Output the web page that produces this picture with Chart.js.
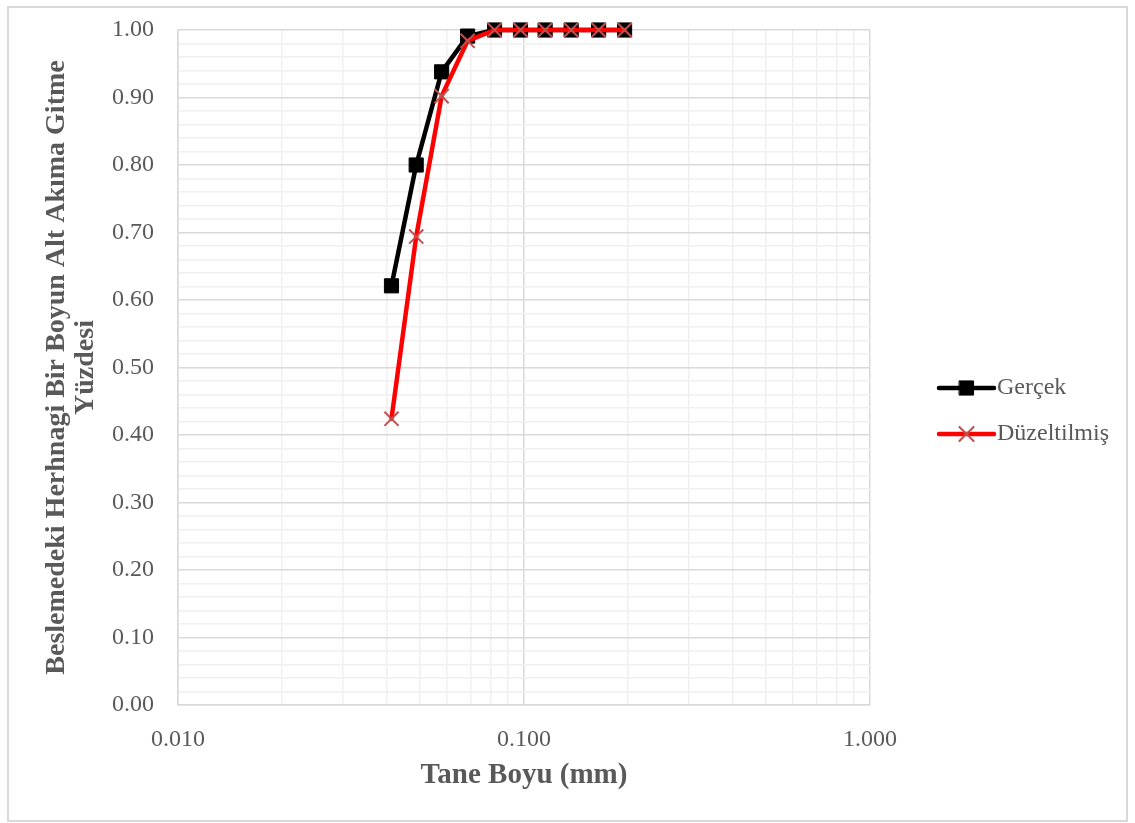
<!DOCTYPE html>
<html lang="tr">
<head>
<meta charset="utf-8">
<title>Tane Boyu Dağılımı</title>
<script src="https://cdn.jsdelivr.net/npm/chart.js@4.4.1/dist/chart.umd.min.js"></script>
<style>
  html, body { margin: 0; padding: 0; background: #ffffff; }
  #frame {
    position: absolute; left: 7px; top: 6px; width: 1121px; height: 816px;
    border: 2px solid #d9d9d9; box-sizing: border-box;
  }
  #chart { position: absolute; left: 0; top: 0; }
</style>
</head>
<body>
<div id="frame"></div>
<canvas id="chart" width="1135" height="823"></canvas>
<script>
// Particle sizes (mm) and passing fractions
const taneBoyu = [0.0414, 0.0488, 0.0578, 0.0687, 0.0822, 0.0977, 0.1151, 0.1369, 0.1643, 0.1953];
const gercek = [0.621, 0.800, 0.938, 0.991, 1.000, 1.000, 1.000, 1.000, 1.000, 1.000];
const duzeltilmis = [0.424, 0.694, 0.902, 0.984, 1.000, 1.000, 1.000, 1.000, 1.000, 1.000];

const seriesNames = ['Gerçek', 'Düzeltilmiş'];
const xTitle = 'Tane Boyu (mm)';
const yTitle = ['Beslemedeki Herhnagi Bir Boyun Alt Akıma Gitme', 'Yüzdesi'];

// Log axis grid: 1..9 within each decade, plus the closing 1.000
const xDecades = [0.01, 0.1];
const xMultipliers = [1, 2, 3, 4, 5, 6, 7, 8, 9];
const xMax = 1;

const FONT = '"Liberation Serif", "Times New Roman", serif';
const TEXT = '#595959';
const GRID_MAJOR = '#d9d9d9';
const GRID_MINOR = '#f0f0f0';

const toPoints = (ys) => taneBoyu.map((x, i) => ({ x: x, y: ys[i] }));
const isDecade = (v) => Math.abs(Math.log10(v) - Math.round(Math.log10(v))) < 1e-9;
const isTenth = (v) => Math.abs(v * 10 - Math.round(v * 10)) < 1e-6;

// Legend drawn as line + marker samples to the right of the plot
const sideLegend = {
  id: 'sideLegend',
  afterDraw(chart) {
    const ctx = chart.ctx;
    const items = chart.data.datasets;
    const x0 = 939, x1 = 994, tx = 997;
    const rows = [388, 434];
    items.forEach((ds, i) => {
      const y = rows[i];
      ctx.save();
      ctx.lineCap = 'round';
      ctx.strokeStyle = ds.borderColor;
      ctx.lineWidth = ds.borderWidth;
      ctx.beginPath();
      ctx.moveTo(x0, y);
      ctx.lineTo(x1, y);
      ctx.stroke();
      ctx.fillStyle = ds.pointBackgroundColor;
      ctx.strokeStyle = ds.pointBorderColor;
      ctx.lineWidth = ds.pointBorderWidth;
      Chart.helpers.drawPoint(ctx, {
        pointStyle: ds.pointStyle, radius: ds.pointRadius, rotation: 0, borderWidth: ds.pointBorderWidth
      }, (x0 + x1) / 2, y);
      ctx.fillStyle = TEXT;
      ctx.font = '24px ' + FONT;
      ctx.textAlign = 'left';
      ctx.textBaseline = 'middle';
      ctx.fillText(ds.label, tx, y);
      ctx.restore();
    });
  }
};

new Chart(document.getElementById('chart'), {
  type: 'line',
  data: {
    datasets: [
      {
        label: seriesNames[0],
        data: toPoints(gercek),
        borderColor: '#000000',
        borderWidth: 4.5,
        pointStyle: 'rect',
        pointRadius: 10,
        pointBackgroundColor: '#000000',
        pointBorderColor: '#000000',
        pointBorderWidth: 1,
        tension: 0,
        clip: false,
        order: 2
      },
      {
        label: seriesNames[1],
        data: toPoints(duzeltilmis),
        borderColor: '#ff0000',
        borderWidth: 4.5,
        pointStyle: 'crossRot',
        pointRadius: 10,
        pointBackgroundColor: '#c0504d',
        pointBorderColor: '#c0504d',
        pointBorderWidth: 2,
        tension: 0,
        clip: false,
        order: 1
      }
    ]
  },
  options: {
    responsive: false,
    animation: false,
    events: [],
    layout: { autoPadding: false, padding: { left: 0, top: 30, right: 265, bottom: 0 } },
    elements: { line: { borderJoinStyle: 'round', borderCapStyle: 'round' } },
    plugins: {
      legend: { display: false },
      tooltip: { enabled: false }
    },
    scales: {
      x: {
        type: 'logarithmic',
        min: xDecades[0],
        max: xMax,
        afterFit(scale) {
          scale.height = 118;
          scale.paddingLeft = 0;
          scale.paddingRight = 0;
        },
        afterBuildTicks(scale) {
          const t = [];
          xDecades.forEach(d => xMultipliers.forEach(m => t.push({ value: +(d * m).toPrecision(6) })));
          t.push({ value: xMax });
          scale.ticks = t;
        },
        border: { display: true, color: GRID_MAJOR, width: 1.5 },
        grid: {
          drawTicks: false,
          lineWidth: 1.5,
          color: (c) => (c.tick && isDecade(c.tick.value)) ? GRID_MAJOR : GRID_MINOR
        },
        ticks: {
          autoSkip: false,
          maxRotation: 0,
          padding: 20,
          color: TEXT,
          font: { family: FONT, size: 24 },
          callback: (v) => isDecade(v) ? Number(v).toFixed(3) : ''
        },
        title: {
          display: true,
          text: xTitle,
          color: TEXT,
          font: { family: FONT, size: 29, weight: 'bold', lineHeight: 1.2 },
          padding: { top: 0, bottom: 30 }
        }
      },
      y: {
        min: 0,
        max: 1,
        afterFit(scale) {
          scale.width = 178;
          scale.paddingTop = 0;
          scale.paddingBottom = 0;
        },
        border: { display: true, color: GRID_MAJOR, width: 1.5 },
        grid: {
          drawTicks: false,
          lineWidth: 1.5,
          color: (c) => (c.tick && isTenth(c.tick.value)) ? GRID_MAJOR : GRID_MINOR
        },
        ticks: {
          stepSize: 0.02,
          autoSkip: false,
          padding: 24,
          color: TEXT,
          font: { family: FONT, size: 24 },
          callback: (v) => isTenth(v) ? Number(v).toFixed(2) : ''
        },
        title: {
          display: true,
          text: yTitle,
          color: TEXT,
          font: { family: FONT, size: 28, weight: 'bold', lineHeight: 1.05 },
          padding: { top: 42, bottom: 0 }
        }
      }
    }
  },
  plugins: [sideLegend]
});
</script>
</body>
</html>
